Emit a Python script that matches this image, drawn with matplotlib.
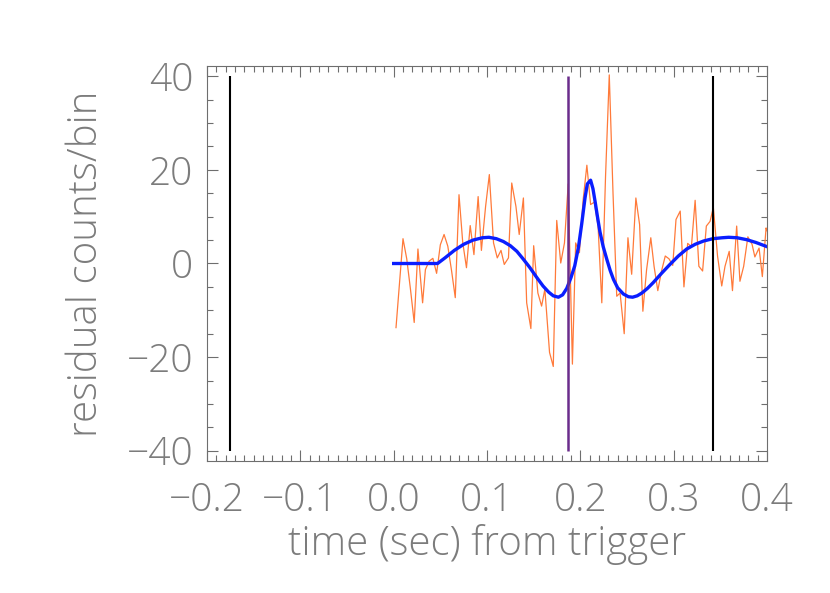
import numpy as np
import matplotlib
matplotlib.use("Agg")
import matplotlib.pyplot as plt
from matplotlib.ticker import MultipleLocator

# residual counts per bin (orange)
t_res = [0.0025, 0.010, 0.014, 0.018, 0.022, 0.026, 0.031, 0.034, 0.038, 0.042,
         0.046, 0.050, 0.054, 0.058, 0.062, 0.066, 0.070, 0.074, 0.078, 0.082,
         0.086, 0.0905, 0.094, 0.0985, 0.1025, 0.107, 0.111, 0.115, 0.1185, 0.123,
         0.1265, 0.131, 0.1345, 0.139, 0.1425, 0.147, 0.150, 0.1545, 0.1585, 0.162,
         0.167, 0.171, 0.1747, 0.179, 0.183, 0.187, 0.1915, 0.195, 0.199, 0.203,
         0.207, 0.211, 0.215, 0.219, 0.223, 0.227, 0.231, 0.235, 0.239, 0.2426,
         0.247, 0.251, 0.255, 0.2595, 0.2635, 0.267, 0.271, 0.2755, 0.279, 0.283,
         0.287, 0.291, 0.295, 0.299, 0.3025, 0.307, 0.311, 0.315, 0.319, 0.323,
         0.327, 0.331, 0.335, 0.339, 0.3425, 0.347, 0.3515, 0.355, 0.3595, 0.363,
         0.3675, 0.371, 0.375, 0.3795, 0.384, 0.387, 0.3915, 0.395, 0.399, 0.4]
v_res = [-13.7, 5.3, 1.0, -5.5, -12.6, 3.1, -8.4, -1.3, 0.5, 1.1,
         -2.1, 4.0, 6.2, 3.7, -1.5, -7.3, 14.7, 4.5, -0.9, 8.1,
         1.9, 14.3, 2.8, 12.2, 19.0, 4.4, 1.2, 2.8, -0.2, 1.2,
         17.2, 12.2, 6.2, 14.0, -8.4, -13.9, 3.8, -6.3, -9.1, -5.5,
         -19.0, -22.0, 9.2, 0.1, 4.4, 17.0, -21.5, 4.4, 2.3, 13.6,
         21.0, 12.6, 13.1, 8.0, -8.4, 18.6, 40.3, 15.1, -7.0, -6.3,
         -15.0, 5.5, -2.3, 14.0, 8.3, -10.2, -1.3, 5.5, -0.6, -5.8,
         -1.6, 1.6, 1.0, -0.4, 9.4, 11.2, -5.0, 4.3, 3.6, 13.5,
         -0.6, -1.6, 8.0, 9.0, 12.0, 1.6, -4.8, -0.6, 2.6, -5.8,
         8.0, -3.8, -0.6, 5.7, 4.1, 1.4, 3.3, -2.8, 7.6, 7.0]

# fitted model (blue)
t_fit = [0.0, 0.047, 0.055, 0.065, 0.075, 0.085, 0.095, 0.102, 0.110, 0.1175,
         0.125, 0.132, 0.139, 0.146, 0.153, 0.160, 0.166, 0.171, 0.1765, 0.181,
         0.1855, 0.190, 0.194, 0.198, 0.2015, 0.205, 0.2075, 0.211, 0.2135, 0.216,
         0.2185, 0.221, 0.2245, 0.2285, 0.232, 0.2355, 0.240, 0.246, 0.2515, 0.256,
         0.261, 0.266, 0.272, 0.278, 0.287, 0.296, 0.305, 0.314, 0.323, 0.332,
         0.342, 0.352, 0.359, 0.368, 0.378, 0.388, 0.400]
v_fit = [0.0, 0.0, 1.2, 2.8, 4.1, 5.0, 5.5, 5.6, 5.3, 4.7,
         3.8, 2.6, 0.9, -0.9, -2.9, -4.8, -6.1, -6.9, -7.2, -6.7,
         -5.3, -3.0, -0.5, 3.5, 8.5, 14.0, 17.0, 17.8, 16.0, 13.0,
         9.8, 6.8, 3.6, 0.8, -1.5, -3.4, -5.2, -6.5, -7.1, -7.2,
         -6.9, -6.3, -5.3, -4.1, -2.1, -0.2, 1.6, 3.1, 4.1, 4.8,
         5.3, 5.5, 5.6, 5.5, 5.1, 4.5, 3.6]

# marker times
t_black = [-0.175, 0.342]
t_purple = 0.187

GRAY = "#6e6e6e"
TXT = "#7c7c7c"
FONT = ["Open Sans", "DejaVu Sans"]
FW = "light"
FS = 28

fig = plt.figure(figsize=(8.3, 5.93), dpi=100)
ax = fig.add_axes([0.2494, 0.2226, 0.6747, 0.6661])

ax.plot(t_res, v_res, color="#ff7a3a", lw=0.9)
ax.plot(t_fit, v_fit, color="#0a1eff", lw=2.4)
ax.vlines(t_black, -40, 40, color="black", lw=1.5)
ax.vlines(t_purple, -40, 40, color="#6b2d8c", lw=1.8)

ax.set_xlim(-0.2, 0.4)
ax.set_ylim(-42.2, 42.2)
ax.xaxis.set_major_locator(MultipleLocator(0.1))
ax.xaxis.set_minor_locator(MultipleLocator(0.01))
ax.yaxis.set_major_locator(MultipleLocator(20))
ax.yaxis.set_minor_locator(MultipleLocator(5))
ax.tick_params(which="both", direction="in", top=True, right=True,
               color=GRAY, width=0.8, labelcolor=TXT, labelsize=FS)
ax.tick_params(which="major", length=8)
ax.tick_params(which="minor", length=4)
ax.tick_params(axis="x", which="major", pad=15)
ax.tick_params(axis="y", which="major", pad=10)
for s in ax.spines.values():
    s.set_color(GRAY)
    s.set_linewidth(0.8)

ax.set_xticklabels([f"{v:.1f}".replace("-", "\u2212") for v in ax.get_xticks()],
                   fontfamily=FONT, fontweight=FW)
ax.set_yticklabels([f"{v:.0f}".replace("-", "\u2212") for v in ax.get_yticks()],
                   fontfamily=FONT, fontweight=FW)
ax.set_xlabel("time (sec) from trigger", fontsize=FS + 1, color=TXT,
              fontfamily=FONT, fontweight=FW, labelpad=3)
ax.set_ylabel("residual counts/bin", fontsize=FS + 1, color=TXT,
              fontfamily=FONT, fontweight=FW, labelpad=14)

fig.savefig("out.png", dpi=100)
